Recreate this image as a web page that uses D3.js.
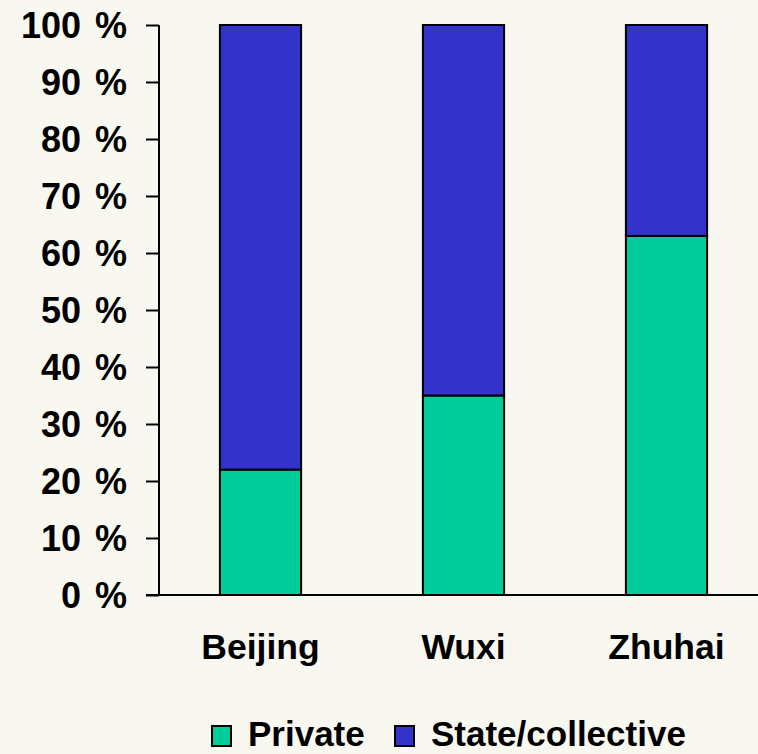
<!DOCTYPE html>
<html><head><meta charset="utf-8">
<script src="https://cdn.jsdelivr.net/npm/d3@7"></script>
<style>html,body{margin:0;padding:0;background:#F8F8F0;}svg{display:block;}</style>
</head><body>
<script>
const categories = ["Beijing", "Wuxi", "Zhuhai"];
const privateShare = [22, 35, 63];
const stateShare = [78, 65, 37];
const seriesNames = ["Private", "State/collective"];
const seriesColors = ["#00CC99", "#3333CC"];
const yTicks = [0, 10, 20, 30, 40, 50, 60, 70, 80, 90, 100];

const W = 758, H = 754;
const svg = d3.select("body").append("svg").attr("width", W).attr("height", H);
svg.append("rect").attr("width", W).attr("height", H).attr("fill", "#F8F8F0");

const font = "'Liberation Sans', Arial, sans-serif";
const x = d3.scaleBand().domain(categories).range([159, 768]).paddingInner(0.6).paddingOuter(0.3);
const y = d3.scaleLinear().domain([0, 100]).range([595, 25]);

const rows = categories.map((c, i) => ({cat: c, Private: privateShare[i], "State/collective": stateShare[i]}));
const stack = d3.stack().keys(seriesNames)(rows);

const g = svg.append("g");
stack.forEach((layer, li) => {
  g.selectAll(null).data(layer).enter().append("rect")
    .attr("x", d => x(d.data.cat))
    .attr("y", d => y(d[1]))
    .attr("width", x.bandwidth())
    .attr("height", d => y(d[0]) - y(d[1]))
    .attr("fill", seriesColors[li])
    .attr("stroke", "#000").attr("stroke-width", 2);
});

// y axis
const yAxis = svg.append("g").attr("transform", "translate(159,0)")
  .call(d3.axisLeft(y).tickValues(yTicks).tickSize(13).tickPadding(19).tickFormat(d => d + " %"));
yAxis.select(".domain").attr("stroke", "#000").attr("stroke-width", 2).attr("d", "M0,25V595");
yAxis.selectAll(".tick line").attr("stroke", "#000").attr("stroke-width", 2);
yAxis.selectAll(".tick text").attr("font-family", font).attr("font-weight", "bold").attr("font-size", 36)
  .attr("fill", "#000").attr("dy", "0.35em").attr("word-spacing", 4);

// x axis line
svg.append("line").attr("x1", 146).attr("x2", W).attr("y1", 595).attr("y2", 595).attr("stroke", "#000").attr("stroke-width", 2);
svg.selectAll(".cat").data(categories).enter().append("text")
  .attr("x", d => x(d) + x.bandwidth() / 2).attr("y", 659)
  .attr("text-anchor", "middle").attr("font-family", font).attr("font-weight", "bold").attr("font-size", 35.5)
  .text(d => d);

// legend
const legendX = [211, 394];
seriesNames.forEach((n, i) => {
  svg.append("rect").attr("x", legendX[i] + 1).attr("y", 726).attr("width", 19).attr("height", 20)
    .attr("fill", seriesColors[i]).attr("stroke", "#000").attr("stroke-width", 2);
  svg.append("text").attr("x", legendX[i] + 37).attr("y", 746)
    .attr("font-family", font).attr("font-weight", "bold").attr("font-size", 35).text(n);
});
</script>
</body></html>
